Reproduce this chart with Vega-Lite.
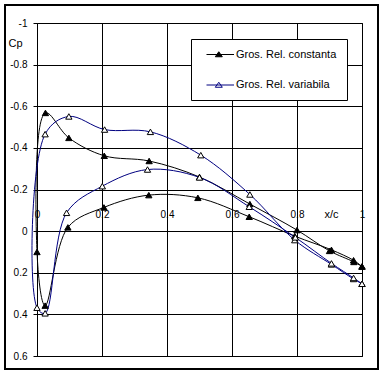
{
  "$schema": "https://vega.github.io/schema/vega-lite/v6.json",
  "width": 325,
  "height": 333,
  "autosize": "none",
  "padding": {"left": 37, "top": 23, "right": 24, "bottom": 20},
  "background": "white",
  "config": {
    "view": {"stroke": "black", "strokeWidth": 1},
    "font": "Liberation Sans",
    "axis": {
      "gridColor": "black", "gridOpacity": 1, "gridWidth": 1,
      "domainColor": "black", "tickColor": "black", "labelColor": "black",
      "labelFont": "Liberation Sans", "labelFontSize": 10,
      "titleFont": "Liberation Sans", "titleFontWeight": "normal", "titleColor": "black"
    }
  },
  "data": {"values": [
    {"s": "Gros. Rel. constanta", "i": 1, "x": 1, "cp": 0.17},
    {"s": "Gros. Rel. constanta", "i": 2, "x": 0.975, "cp": 0.148},
    {"s": "Gros. Rel. constanta", "i": 3, "x": 0.9, "cp": 0.095},
    {"s": "Gros. Rel. constanta", "i": 4, "x": 0.8, "cp": -0.005},
    {"s": "Gros. Rel. constanta", "i": 5, "x": 0.655, "cp": -0.13},
    {"s": "Gros. Rel. constanta", "i": 6, "x": 0.5, "cp": -0.26},
    {"s": "Gros. Rel. constanta", "i": 7, "x": 0.345, "cp": -0.337},
    {"s": "Gros. Rel. constanta", "i": 8, "x": 0.207, "cp": -0.362},
    {"s": "Gros. Rel. constanta", "i": 9, "x": 0.098, "cp": -0.448},
    {"s": "Gros. Rel. constanta", "i": 10, "x": 0.026, "cp": -0.568},
    {"s": "Gros. Rel. constanta", "i": 11, "x": 0, "cp": 0.1},
    {"s": "Gros. Rel. constanta", "i": 12, "x": 0.025, "cp": 0.358},
    {"s": "Gros. Rel. constanta", "i": 13, "x": 0.095, "cp": -0.018},
    {"s": "Gros. Rel. constanta", "i": 14, "x": 0.206, "cp": -0.114},
    {"s": "Gros. Rel. constanta", "i": 15, "x": 0.344, "cp": -0.173},
    {"s": "Gros. Rel. constanta", "i": 16, "x": 0.495, "cp": -0.16},
    {"s": "Gros. Rel. constanta", "i": 17, "x": 0.653, "cp": -0.069},
    {"s": "Gros. Rel. constanta", "i": 18, "x": 0.793, "cp": 0.024},
    {"s": "Gros. Rel. constanta", "i": 19, "x": 0.906, "cp": 0.09},
    {"s": "Gros. Rel. constanta", "i": 20, "x": 0.974, "cp": 0.14},
    {"s": "Gros. Rel. constanta", "i": 21, "x": 1, "cp": 0.17},
    {"s": "Gros. Rel. variabila", "i": 1, "x": 1, "cp": 0.253},
    {"s": "Gros. Rel. variabila", "i": 2, "x": 0.974, "cp": 0.23},
    {"s": "Gros. Rel. variabila", "i": 3, "x": 0.906, "cp": 0.16},
    {"s": "Gros. Rel. variabila", "i": 4, "x": 0.793, "cp": 0.043},
    {"s": "Gros. Rel. variabila", "i": 5, "x": 0.655, "cp": -0.176},
    {"s": "Gros. Rel. variabila", "i": 6, "x": 0.504, "cp": -0.365},
    {"s": "Gros. Rel. variabila", "i": 7, "x": 0.349, "cp": -0.477},
    {"s": "Gros. Rel. variabila", "i": 8, "x": 0.208, "cp": -0.488},
    {"s": "Gros. Rel. variabila", "i": 9, "x": 0.098, "cp": -0.551},
    {"s": "Gros. Rel. variabila", "i": 10, "x": 0.025, "cp": -0.466},
    {"s": "Gros. Rel. variabila", "i": 11, "x": 0, "cp": 0.368},
    {"s": "Gros. Rel. variabila", "i": 12, "x": 0.025, "cp": 0.395},
    {"s": "Gros. Rel. variabila", "i": 13, "x": 0.091, "cp": -0.088},
    {"s": "Gros. Rel. variabila", "i": 14, "x": 0.201, "cp": -0.216},
    {"s": "Gros. Rel. variabila", "i": 15, "x": 0.34, "cp": -0.296},
    {"s": "Gros. Rel. variabila", "i": 16, "x": 0.5, "cp": -0.258},
    {"s": "Gros. Rel. variabila", "i": 17, "x": 0.653, "cp": -0.117},
    {"s": "Gros. Rel. variabila", "i": 18, "x": 0.795, "cp": 0.03},
    {"s": "Gros. Rel. variabila", "i": 19, "x": 0.906, "cp": 0.155},
    {"s": "Gros. Rel. variabila", "i": 20, "x": 0.974, "cp": 0.225},
    {"s": "Gros. Rel. variabila", "i": 21, "x": 1, "cp": 0.253}
  ]},
  "layer": [
    {
      "mark": {"type": "rect", "fill": null, "stroke": "black", "strokeWidth": 1, "clip": false},
      "encoding": {
        "x": {"datum": -0.0994, "type": "quantitative"},
        "x2": {"datum": 1.0505},
        "y": {"datum": -1.085, "type": "quantitative"},
        "y2": {"datum": 0.662}
      }
    },
    {
      "mark": {"type": "line", "interpolate": "catmull-rom", "strokeWidth": 1},
      "encoding": {
        "x": {
          "field": "x", "type": "quantitative",
          "scale": {"domain": [0, 1], "nice": false, "zero": false},
          "axis": {
            "orient": "top", "offset": -207, "values": [0, 0.2, 0.4, 0.6, 0.8, 1],
            "labelExpr": "'' + datum.value", "labelFlush": false, "tickSize": 0,
            "labelPadding": 11, "grid": true, "domain": false,
            "title": "x/c", "titleFontSize": 11, "titleX": 294, "titleY": -16,
            "titleAlign": "center", "titleBaseline": "middle", "titleAngle": 0
          }
        },
        "y": {
          "field": "cp", "type": "quantitative",
          "scale": {"domain": [-1, 0.6], "nice": false, "zero": false, "reverse": true},
          "axis": {
            "values": [-1, -0.8, -0.6, -0.4, -0.2, 0, 0.2, 0.4, 0.6],
            "labelExpr": "'' + datum.value", "labelFlush": false, "tickSize": 4,
            "labelPadding": 6, "grid": true, "domain": false,
            "title": "Cp", "titleFontSize": 11, "titleAngle": 0, "titleX": -22, "titleY": 20,
            "titleAlign": "center", "titleBaseline": "middle"
          }
        },
        "order": {"field": "i", "type": "quantitative"},
        "stroke": {
          "field": "s", "type": "nominal",
          "scale": {"domain": ["Gros. Rel. constanta", "Gros. Rel. variabila"], "range": ["#000000", "#000080"]},
          "legend": {
            "orient": "none", "legendX": 154, "legendY": 16, "title": null,
            "symbolType": "M0,0H5.5M1.76,0.45L2.46,-0.55L3.16,0.45Z",
            "symbolSize": 100, "symbolStrokeWidth": 1,
            "labelOffset": 24, "padding": 10, "rowPadding": 18.5,
            "strokeColor": "black", "fillColor": "white",
            "labelFont": "Liberation Sans", "labelFontSize": 11, "labelColor": "black",
            "encode": {"symbols": {"update": {"fill": {"signal": "datum.value == 'Gros. Rel. constanta' ? 'black' : 'white'"}}}}
          }
        }
      }
    },
    {
      "mark": {"type": "point", "shape": "triangle-up", "size": 40, "stroke": "black", "strokeWidth": 1, "opacity": 1},
      "encoding": {
        "x": {"field": "x", "type": "quantitative"},
        "y": {"field": "cp", "type": "quantitative"},
        "fill": {
          "field": "s", "type": "nominal",
          "scale": {"domain": ["Gros. Rel. constanta", "Gros. Rel. variabila"], "range": ["#000000", "#ffffff"]},
          "legend": null
        }
      }
    }
  ]
}
